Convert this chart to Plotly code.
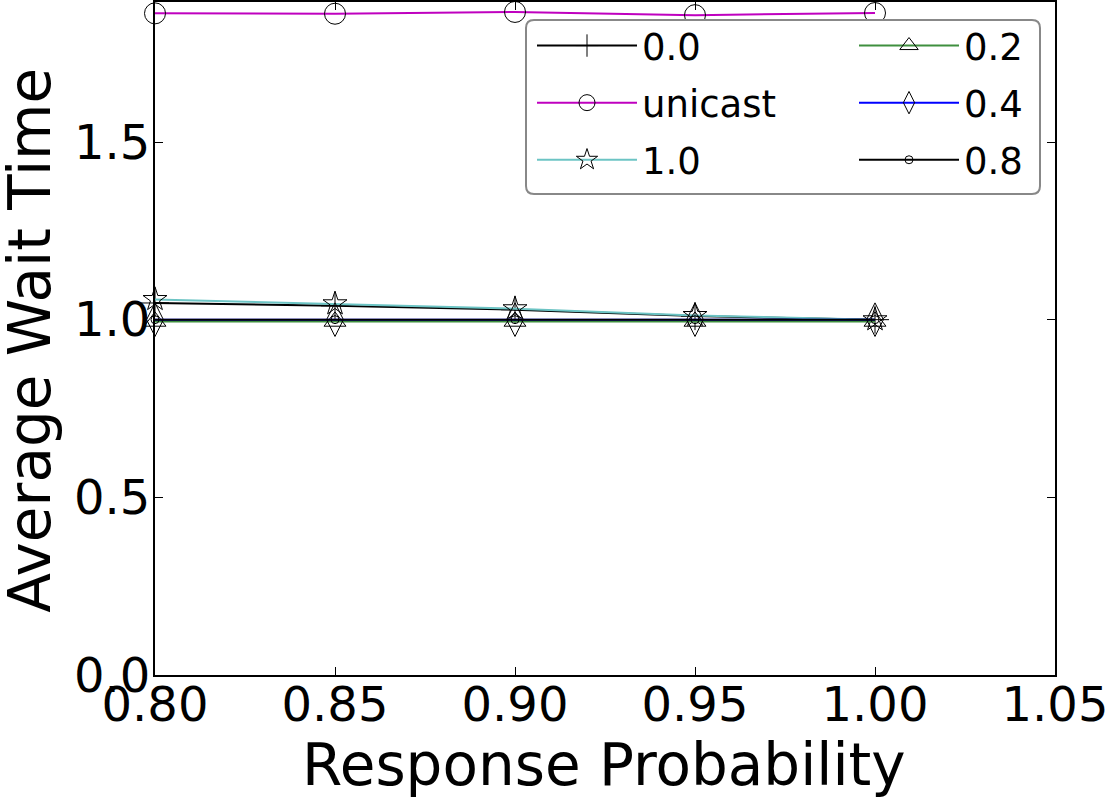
import plotly.graph_objects as go

# response probability on x
probs = [0.80, 0.85, 0.90, 0.95, 1.00]
x_ticks = [0.80, 0.85, 0.90, 0.95, 1.00, 1.05]
y_ticks = [0.0, 0.5, 1.0, 1.5]

# average wait time per series
wait_00 = [1.047, 1.039, 1.028, 1.010, 1.000]
wait_unicast = [1.862, 1.861, 1.866, 1.857, 1.863]
wait_10 = [1.057, 1.045, 1.031, 1.012, 1.000]
wait_02 = [0.995, 0.995, 0.995, 0.995, 0.995]
wait_04 = [1.000, 1.000, 1.000, 1.000, 1.000]
wait_08 = [1.000, 1.000, 1.000, 1.000, 1.000]

font = "DejaVu Sans"

fig = go.Figure()

# (name, values, colour, symbol, size, legend column)
series = [
    ("0.0", wait_00, "black", "cross-thin-open", 20, "legend"),
    ("unicast", wait_unicast, "#bf00bf", "circle-open", 21, "legend"),
    ("1.0", wait_10, "#6cc4c4", "star-open", 18, "legend"),
    ("0.2", wait_02, "#3f8f3f", "triangle-up-open", 19, "legend2"),
    ("0.4", wait_04, "blue", "diamond-tall-open", 24, "legend2"),
    ("0.8", wait_08, "black", "circle-open", 8, "legend2"),
]

for name, vals, color, symbol, size, leg in series:
    fig.add_trace(go.Scatter(
        x=probs, y=vals, name=name, mode="lines+markers",
        line=dict(color=color, width=2),
        marker=dict(symbol=symbol, size=size, color="black",
                    line=dict(color="black", width=1)),
        cliponaxis=False, legend=leg, legendgroup=name,
    ))

axis_common = dict(
    showline=True, linecolor="black", linewidth=2, mirror="ticks",
    ticks="inside", ticklen=8, tickwidth=1, tickcolor="black",
    showgrid=False, zeroline=False, automargin=False,
    ticklabeloverflow="allow",
    tickfont=dict(family=font, size=48, color="black"),
)

fig.update_xaxes(range=[0.80, 1.05], tickvals=x_ticks, tickformat=".2f",
                 ticklabelstandoff=-14, **axis_common)
fig.update_yaxes(range=[0, 1.894], tickvals=y_ticks, tickformat=".1f",
                 ticklabelstandoff=-7, **axis_common)

title_font = dict(family=font, size=58, color="black")
fig.add_annotation(text="Response Probability", xref="paper", yref="paper",
                   x=0.499, y=-0.134, xanchor="center", yanchor="middle",
                   showarrow=False, font=title_font)
fig.add_annotation(text="Average Wait Time", xref="paper", yref="paper",
                   x=-0.139, y=0.498, xanchor="center", yanchor="middle",
                   textangle=-90, showarrow=False, font=title_font)

# rounded legend frame around both legend columns
x0, x1 = (526 - 155) / 900, (1040 - 155) / 900
y0, y1 = (675 - 194) / 673, (675 - 20) / 673
rx, ry = 8 / 900, 8 / 673
frame = (f"M {x0+rx},{y1} L {x1-rx},{y1} Q {x1},{y1} {x1},{y1-ry} "
         f"L {x1},{y0+ry} Q {x1},{y0} {x1-rx},{y0} L {x0+rx},{y0} "
         f"Q {x0},{y0} {x0},{y0+ry} L {x0},{y1-ry} Q {x0},{y1} {x0+rx},{y1} Z")
fig.add_shape(type="path", path=frame, xref="paper", yref="paper",
              line=dict(color="#888888", width=2), fillcolor="white", layer="above")

legend_common = dict(
    orientation="v", xanchor="left", yanchor="top",
    bgcolor="rgba(0,0,0,0)", borderwidth=0,
    font=dict(family=font, size=37, color="black"),
    itemwidth=100, tracegroupgap=6, traceorder="grouped",
)

fig.update_layout(
    width=1105, height=799,
    margin=dict(l=155, r=50, t=2, b=124),
    plot_bgcolor="white", paper_bgcolor="white",
    font=dict(family=font, color="black"),
    showlegend=True,
    legend=dict(x=(532 - 155) / 900, y=(675 - 15) / 673, **legend_common),
    legend2=dict(x=(854 - 155) / 900, y=(675 - 15) / 673, **legend_common),
)

# drop the default page margin so the figure sits at the window corner
fig.write_html("out.html", config={"displayModeBar": False},
               post_script="document.body.style.margin='0';")
